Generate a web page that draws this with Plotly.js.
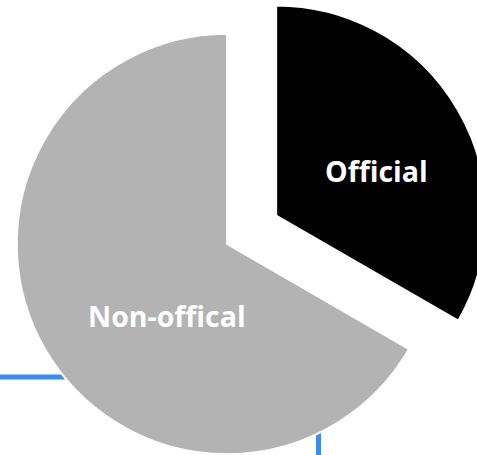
<!DOCTYPE html>
<html>
<head>
<meta charset="utf-8">
<script src="https://cdn.plot.ly/plotly-3.0.1.min.js"></script>
<style>
  html, body { margin: 0; padding: 0; width: 477px; height: 455px; overflow: hidden; background: #fff; }
  #chart { position: absolute; left: -40px; top: -23px; }
</style>
</head>
<body>
<div id="chart"></div>
<script>
const labels = ["Official", "Non-offical"];
const values = [1, 2];
const colors = ["#000000", "#b3b3b3"];
const pulls = [0.27, 0];

const W = 534, H = 534, OFFX = 40, OFFY = 23;
// label centres in page pixels (layout only)
const labelPos = [[376, 170.5], [166.5, 316]];

const trace = {
  type: "pie",
  labels: labels,
  values: values,
  pull: pulls,
  sort: false,
  direction: "clockwise",
  rotation: 0,
  textinfo: "none",
  marker: { colors: colors, line: { color: "#ffffff", width: 2 } },
  hoverinfo: "none",
  showlegend: false
};

const annotations = labels.map((lab, i) => ({
  text: lab,
  xref: "paper", yref: "paper",
  x: (labelPos[i][0] + OFFX) / W,
  y: 1 - (labelPos[i][1] + OFFY) / H,
  xanchor: "center", yanchor: "middle",
  showarrow: false,
  font: { family: "Open Sans", size: 28.5, color: "#ffffff", weight: "bold" }
}));

const layout = {
  width: W,
  height: H,
  margin: { l: 0, r: 0, t: 0, b: 0 },
  paper_bgcolor: "rgba(0,0,0,0)",
  plot_bgcolor: "rgba(0,0,0,0)",
  showlegend: false,
  annotations: annotations,
  shapes: [{
    type: "rect", xref: "paper", yref: "paper", layer: "below",
    x0: -0.2, x1: (318.5 + OFFX) / W,
    y0: -0.2, y1: 1 - (377 + OFFY) / H,
    line: { color: "#3a8cf0", width: 5 },
    fillcolor: "rgba(0,0,0,0)"
  }]
};

Plotly.newPlot("chart", [trace], layout, { displayModeBar: false, staticPlot: true });
</script>
</body>
</html>
